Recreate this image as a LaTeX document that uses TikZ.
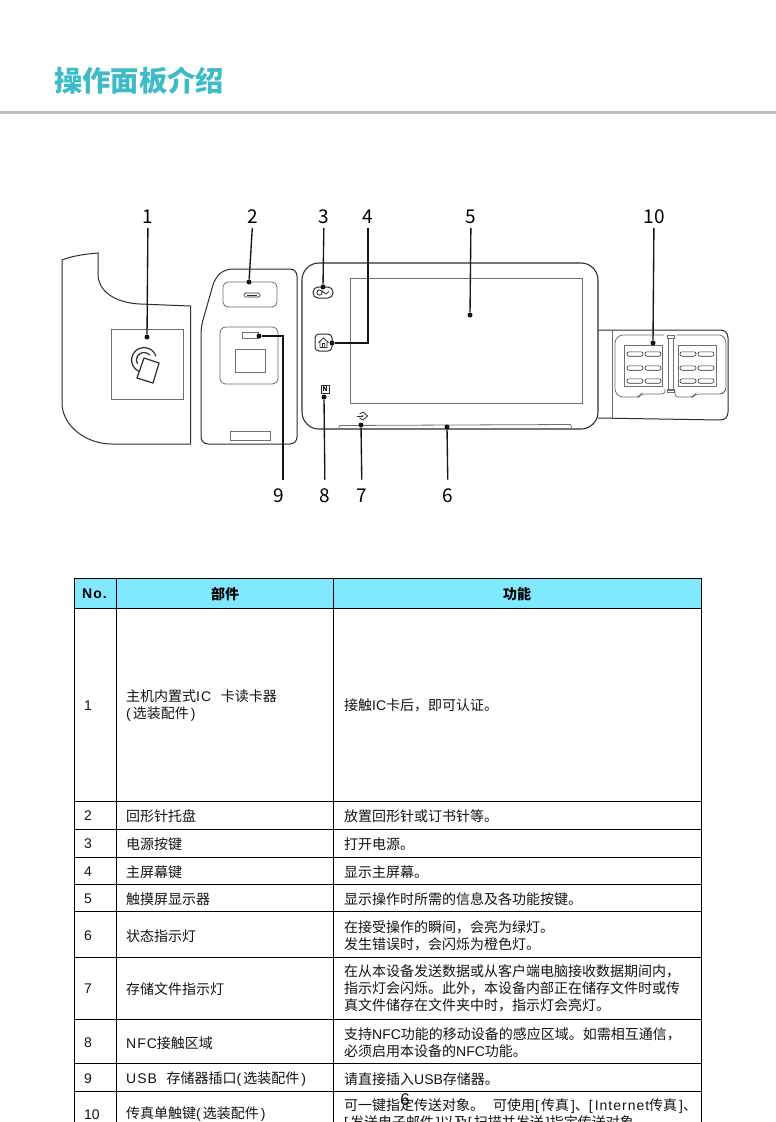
\documentclass[tikz,border=0pt]{standalone}
\usepackage{fontspec}
\setmainfont{Noto Sans CJK SC}
\newfontfamily\latfont{Liberation Sans}
\newfontfamily\widefont[LetterSpace=7]{Liberation Sans}
\newcommand{\nlat}[1]{{\latfont #1}}
\newcommand{\wlat}[1]{{\widefont #1}}
\newcommand{\lpn}{\wlat{(}\kern2pt}
\newcommand{\rpn}{\kern2pt\wlat{)}}
\newcommand{\lbk}{\wlat{[}\kern2pt}
\newcommand{\rbk}{\kern2pt\wlat{]}}
\usetikzlibrary{arrows.meta,positioning}
\definecolor{ink}{HTML}{141414}
\definecolor{partc}{HTML}{2E2E2E}
\definecolor{greyc}{HTML}{6E6E6E}
\definecolor{titlec}{HTML}{3DBBC9}
\definecolor{rulec}{HTML}{BDBDBD}
\definecolor{headc}{HTML}{80E8FF}
\tikzset{
  part/.style={partc,line width=1pt},
  thinpart/.style={greyc,line width=0.8pt},
  leader/.style={ink,line width=1.35pt},
  ldot/.style={circle,fill=ink,inner sep=0pt,minimum size=5pt},
  numlbl/.style={font=\fontsize{19}{19}\selectfont,inner sep=0pt,text height=13pt,text depth=0pt},
  topnum/.style={numlbl,outer ysep=5pt},
  botnum/.style={numlbl,outer ysep=10pt},
  cell/.style={font=\fontsize{14}{17}\selectfont,anchor=west,inner sep=0pt,align=left,text=ink},
  headcell/.style={font=\fontsize{14}{17}\bfseries\selectfont,inner sep=0pt,text=black},
  oval/.style={partc,line width=0.6pt,rounded corners=2pt},
}
\begin{document}
\begin{tikzpicture}[x=1pt,y=-1pt]
  \useasboundingbox (0,0) rectangle (776,1122);
  \clip (0,0) rectangle (776,1122);
  \fill[white] (0,0) rectangle (776,1122);
  \node[font=\fontsize{28.3}{28.3}\bfseries\selectfont,text=titlec,anchor=west,inner sep=0pt] (title) at (54,81) {操作面板介绍};
  \fill[rulec] (0,110.5) rectangle (776,114);

  \draw[part] (62,260) .. controls (72,256) and (85,254) .. (98,253) -- (98,276)
    .. controls (100,295) and (120,303) .. (140,304) -- (190.5,306) -- (190.5,444) -- (112,444)
    .. controls (85,444) and (62,425) .. (62,403) -- cycle;
  \draw[thinpart] (111,329) rectangle (183,399);
  \draw[part,line width=1.2pt] (144,358) -- (159,363) -- (153,383) -- (137,378) -- cycle;
  \draw[part,line width=1.2pt] (144,360) ++(113:12.5) arc (113:343:12.5);
  \draw[part,line width=1.2pt] (144,360) ++(150:7.5) arc (150:320:7.5);

  \draw[part,rounded corners=7pt] (225,269) -- (297,269) -- (297,444) -- (201,444) -- (201,327) -- (215,278) -- cycle;
  \draw[thinpart,rounded corners=5pt] (223,282) rectangle (277,307);
  \draw[part,line width=0.7pt,rounded corners=1.5pt] (244,293) rectangle (260,297);
  \draw[part,line width=0.6pt] (247,295) -- (257,295);
  \draw[thinpart,rounded corners=6pt] (220,327) rectangle (278,384);
  \draw[thinpart] (242,332) rectangle (258,338);
  \draw[thinpart] (235,349) rectangle (265,372);
  \draw[thinpart] (230,431) rectangle (270,440);

  \draw[part,line width=1.1pt,rounded corners=17pt] (302,263) rectangle (598,429);
  \draw[thinpart] (350,278) rectangle (582,403);
  \draw[thinpart,rounded corners=1pt] (339,429) -- (339,425.5) -- (571,424.5) -- (571.5,429);
  \draw[part,rounded corners=5pt] (313,287) rectangle (333,298);
  \draw[part,line width=0.8pt] (319.5,292.5) circle (2.6pt) (322,291) -- (326,294) -- (329,291.5);
  \draw[part,rounded corners=4pt] (315,334) rectangle (332,351);
  \draw[part,line width=0.8pt] (318.5,342.5) -- (323.5,338) -- (328.5,342.5) (320,341.5) -- (320,347.5) -- (327,347.5) -- (327,341.5) (322.5,347.5) -- (322.5,343.5) -- (324.7,343.5) -- (324.7,347.5);
  \node[draw=partc,line width=0.8pt,minimum width=8pt,minimum height=8pt,inner sep=0pt,font=\fontsize{6.5}{6.5}\bfseries\selectfont] (nfcmark) at (325,389) {N};
  \draw[part,line width=0.8pt] (363,412) -- (367.5,416) -- (363,420) (359.5,414) -- (363,412) (359.5,418) -- (363,420);
  \draw[part,line width=0.8pt,-{Stealth[length=2.5pt]}] (356.5,416) -- (364,416);

  \draw[part] (598,330) -- (720,330) .. controls (725,330) and (728,333) .. (728,338) -- (728,412)
    .. controls (728,417) and (725,420) .. (720,420) -- (598,418);
  \draw[thinpart] (612,331) -- (612,418);
  \draw[thinpart,rounded corners=3pt] (664,335) -- (620,335) -- (615,340) -- (615,392) -- (620,397) -- (639,397) -- (641,394) -- (665,394) -- (665,389);
  \draw[thinpart,rounded corners=3pt] (676,335) -- (722,335) -- (726,340) -- (726,390) -- (722,394) -- (695,394) -- (693,397) -- (675,397) -- (675,390);
  \draw[thinpart] (668,338) rectangle (673,390);
  \draw[thinpart] (667,335.5) rectangle (674,338.5);
  \draw[thinpart] (667,389) rectangle (674,392);
  \draw[thinpart] (624,345) rectangle (662,386);
  \draw[thinpart] (678,345) rectangle (716,386);
  \foreach \ox in {627,645,680,698}
    \foreach \oy in {354,368,381}
      \draw[oval] (\ox,\oy-2.2) rectangle (\ox+16,\oy+2.2);

  \node[topnum] (num1) at (148,216.5) {1};
  \node[topnum] (num2) at (253,216.5) {2};
  \node[topnum] (num3) at (324,216.5) {3};
  \node[topnum] (num4) at (368,216.5) {4};
  \node[topnum] (num5) at (471,216.5) {5};
  \node[topnum] (num10) at (654,216.5) {10};
  \node[botnum] (num9) at (279,496) {9};
  \node[botnum] (num8) at (325,496) {8};
  \node[botnum] (num7) at (362,496) {7};
  \node[botnum] (num6) at (448,496) {6};
  \node[ldot] (dot1) at (147,337) {};
  \node[ldot] (dot2) at (249,282) {};
  \node[ldot] (dot3) at (323,287) {};
  \node[ldot] (dot4) at (332,343) {};
  \node[ldot] (dot5) at (470,315) {};
  \node[ldot] (dot10) at (653,343) {};
  \node[ldot] (dot9) at (259,336) {};
  \node[ldot] (dot8) at (324,397) {};
  \node[ldot] (dot7) at (361,425) {};
  \node[ldot] (dot6) at (447,427) {};
  \foreach \k in {1,2,3,5,10,8,7,6}
    \draw[leader] (num\k) -- (dot\k);
  \draw[leader] (num4) |- (dot4);
  \draw[leader] ([xshift=4pt]num9.north) |- (dot9);

  \fill[headc] (74,578) rectangle (701,608);
  \node[headcell] (headno) at (94.5,594) {\wlat{No.}};
  \node[headcell] (headpart) at (225,594) {部件};
  \node[headcell] (headfunc) at (517,594) {功能};
  \foreach \yy in {578,608,801,829,857,884,911,957,1019,1063,1091}
    \draw[black,line width=0.8pt] (74,\yy) -- (701,\yy);
  \foreach \xx in {74,116,333,701}
    \draw[black,line width=0.8pt] (\xx,578) -- (\xx,1122);

  \foreach \rr/\yy/\pp/\ff in {
    1/705.7/{主机内置式\wlat{IC\ \ }卡读卡器\\\lpn 选装配件\rpn}/{接触\nlat{IC}卡后，即可认证。},
    2/815.7/{回形针托盘}/{放置回形针或订书针等。},
    3/843.7/{电源按键}/{打开电源。},
    4/871.7/{主屏幕键}/{显示主屏幕。},
    5/898.7/{触摸屏显示器}/{显示操作时所需的信息及各功能按键。},
    6/935.7/{状态指示灯}/{在接受操作的瞬间，会亮为绿灯。\\发生错误时，会闪烁为橙色灯。},
    7/988.7/{存储文件指示灯}/{在从本设备发送数据或从客户端电脑接收数据期间内，\\指示灯会闪烁。此外，本设备内部正在储存文件时或传\\真文件储存在文件夹中时，指示灯会亮灯。},
    8/1042.7/{\wlat{NFC}接触区域}/{支持\nlat{NFC}功能的移动设备的感应区域。如需相互通信，\\必须启用本设备的\nlat{NFC}功能。},
    9/1078.7/{\wlat{USB\ \ }存储器插口\lpn 选装配件\rpn}/{请直接插入\nlat{USB}存储器。},
    10/1114.5/{传真单触键\lpn 选装配件\rpn}/{可一键指定传送对象。\kern9pt 可使用\lbk 传真\rbk 、\lbk\wlat{Internet}传真\rbk 、\\\lbk 发送电子邮件\rbk 以及\lbk 扫描并发送\rbk 指定传送对象。}}
  {
    \node[cell] (no\rr) at (84,\yy) {\nlat{\rr}};
    \node[cell] (part\rr) at (126,\yy) {\pp};
    \node[cell] (func\rr) at (344,\yy) {\ff};
  }
  \node[font=\fontsize{17}{17}\selectfont,inner sep=0pt,text=ink] (pageno) at (405,1100) {\nlat{6}};
\end{tikzpicture}
\end{document}
